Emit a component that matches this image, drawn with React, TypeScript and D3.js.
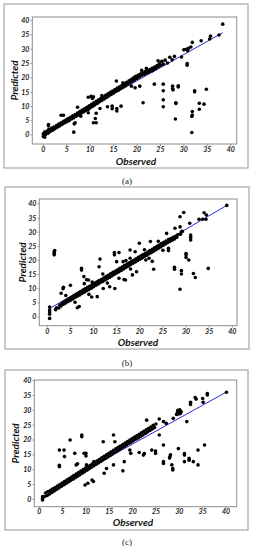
import React from 'react';
import * as d3 from 'd3';

type Pt = [number, number];

// axis ticks shared by the three panels
const xTicks = [0, 5, 10, 15, 20, 25, 30, 35, 40];
const yTicks = [0, 5, 10, 15, 20, 25, 30, 35, 40];

// ---- panel (a) ----
const bandA: Pt[] = [
  [0, -0.5], [0, 0.4], [0.3, 1.0], [0.5, 0.2], [0.8, 1.4], [1, 0.6], [1.2, 2.0], [1.5, 1.2], [1.8, 2.4], [2, 1.7],
  [2.3, 2.8], [2.5, 2.2], [2.8, 3.3], [3, 2.7], [3.3, 3.8], [3.5, 3.2], [3.8, 4.3], [4, 3.7], [4.3, 4.8], [4.5, 4.2],
  [4.8, 5.2], [5, 4.6], [5.3, 5.8], [5.5, 5.0], [5.8, 6.2], [6, 5.6], [6.3, 6.7], [6.5, 6.0], [6.8, 7.2], [7, 6.6],
  [7.3, 7.7], [7.5, 7.0], [7.8, 8.2], [8, 7.5], [8.3, 8.7], [8.5, 8.0], [8.8, 9.2], [9, 8.5], [9.3, 9.7], [9.5, 9.0],
  [9.8, 10.2], [10, 9.5], [10.3, 10.7], [10.5, 10.0], [10.8, 11.3], [11, 10.5], [11.3, 11.8], [11.5, 11.0], [11.8, 12.3], [12, 11.6],
  [12.3, 12.8], [12.5, 12.1], [12.8, 13.3], [13, 12.6], [13.3, 13.9], [13.5, 13.1], [13.8, 14.4], [14, 13.7], [14.3, 14.9], [14.5, 14.2],
  [14.8, 15.4], [15, 14.7], [15.3, 15.9], [15.5, 15.2], [15.8, 16.4], [16, 15.7], [16.3, 16.9], [16.5, 16.2], [16.8, 17.4], [17, 16.7],
  [17.3, 17.9], [17.5, 17.2], [17.8, 18.4], [18, 17.8], [18.3, 19.0], [18.5, 18.3], [18.8, 19.5], [19, 18.8], [19.3, 20.0], [19.5, 19.3],
  [19.8, 20.5], [20, 19.8], [20.3, 21.0], [20.5, 20.3], [20.8, 21.4], [21, 20.8], [21.3, 21.8], [21.5, 21.2], [21.8, 22.2], [22, 21.6],
  [22.3, 22.6], [22.5, 22.0], [22.8, 23.0], [23, 22.4], [23.3, 23.4], [23.5, 22.8], [23.8, 23.8], [24, 23.2], [24.3, 24.3], [24.5, 23.8],
  [24.8, 25.0], [25, 24.3], [25.3, 25.8], [25.6, 24.8], [26, 26.2], [26.5, 25.2], [27, 27.2], [27.5, 26.3], [28, 27.5], [29.5, 27.3],
  [30, 29.8], [30.5, 30.0], [31, 30.3], [30.8, 29.5], [31.5, 30.8], [31.8, 32.4], [33.7, 33.0], [35.5, 33.6], [35.7, 34.6], [37.5, 35.0],
  [38.3, 38.8],
];
const outlierA: Pt[] = [
  [1.1, 3.7], [1.1, 3.2], [0.3, -0.8], [3.8, 6.9], [4.3, 6.9], [6.5, 1.0], [6.8, 4.3], [6.6, 3.9], [7.3, 9.7], [9.6, 7.8],
  [9.6, 9.0], [9.6, 13.2], [10.2, 13.5], [10.7, 13.4], [10.5, 12.8], [10.7, 4.3], [11.3, 4.3], [11.1, 5.8], [11.3, 7.6], [12.1, 9.3],
  [13.7, 9.9], [14.7, 10.1], [14.7, 9.2], [15.7, 8.4], [15.7, 9.3], [16.6, 10.1], [15.6, 18.9], [18.8, 17.1], [19.6, 16.5], [20.6, 17.1],
  [19.6, 20.4], [21.3, 11.3], [23.3, 22.5], [23.7, 17.8], [25.6, 17.8], [25.6, 15.5], [25.6, 12.3], [25.6, 9.9], [27.6, 17.1], [27.6, 16.2],
  [27.7, 15.8], [28.3, 11.3], [28.3, 11.0], [28.2, 5.6], [28.8, 17.2], [28.8, 16.8], [30.7, 24.4], [30.7, 25.0], [31.8, 8.2], [31.8, 7.0],
  [31.7, 6.5], [31.7, 0.9], [32.3, 15.5], [32.3, 15.1], [33.3, 11.1], [33.3, 9.0], [34.3, 10.8], [34.8, 16.0], [21, 22.6], [22, 23.3],
  [24.5, 26.0], [17, 18.3], [12.5, 13.8], [8, 6.6],
];
const fitA: Pt[] = [[0, 0.6], [38.3, 35.8]];

// ---- panel (b) ----
const bandB: Pt[] = [
  [1.8, 2.6], [2, 3.3], [2.5, 3.2], [2.7, 4.2], [3, 3.9], [3.2, 4.9], [3.5, 4.5], [3.7, 5.5], [4, 5.0], [4.2, 6.0],
  [4.5, 5.5], [4.7, 6.5], [5, 5.9], [5.2, 7.0], [5.5, 6.4], [5.7, 7.5], [6, 6.9], [6.2, 8.0], [6.5, 7.4], [6.7, 8.5],
  [7, 7.8], [7.2, 9.0], [7.5, 8.3], [7.7, 9.5], [8, 8.8], [8.2, 10.0], [8.5, 9.3], [8.7, 10.5], [9, 9.7], [9.2, 10.9],
  [9.5, 10.2], [9.7, 11.4], [10, 10.7], [10.2, 11.9], [10.5, 11.2], [10.7, 12.4], [11, 11.7], [11.2, 12.9], [11.5, 12.2], [11.7, 13.3],
  [12, 12.6], [12.2, 13.8], [12.5, 13.1], [12.7, 14.3], [13, 13.6], [13.2, 14.8], [13.5, 14.1], [13.7, 15.3], [14, 14.6], [14.2, 15.8],
  [14.5, 15.1], [14.7, 16.2], [15, 15.6], [15.2, 16.7], [15.5, 16.0], [15.7, 17.2], [16, 16.5], [16.2, 17.7], [16.5, 17.0], [16.7, 18.2],
  [17, 17.5], [17.2, 18.7], [17.5, 18.0], [17.7, 19.2], [18, 18.5], [18.2, 19.6], [18.5, 19.0], [18.7, 20.1], [19, 19.5], [19.2, 20.6],
  [19.5, 19.9], [19.7, 21.1], [20, 20.4], [20.2, 21.6], [20.5, 20.9], [20.7, 22.1], [21, 21.4], [21.2, 22.5], [21.5, 21.9], [21.7, 23.0],
  [22, 22.4], [22.2, 23.5], [22.5, 22.8], [22.7, 24.0], [23, 23.3], [23.2, 24.5], [23.5, 23.8], [23.7, 25.0], [24, 24.3], [24.2, 25.5],
  [24.5, 24.8], [24.7, 26.0], [25, 25.3], [25.2, 26.4], [25.5, 25.8], [25.7, 26.9], [26, 26.3], [26.2, 27.4], [26.5, 26.7], [26.7, 27.8],
  [27, 27.2], [27.2, 28.2], [27.5, 27.6], [27.7, 28.6], [28, 28.2], [28.2, 29.1], [28.8, 29.3], [29.2, 30.3],
];
const outlierB: Pt[] = [
  [0.5, 3.5], [0.5, 2.5], [0.5, 1.8], [0.5, 1.0], [0.5, -0.5], [1.5, 22.0], [1.5, 22.6], [1.5, 23.2], [1.6, 23.5], [3, 8.4],
  [3.5, 10.5], [3.4, 10.0], [5, 11.2], [6.5, 3.3], [6.9, 3.7], [7.4, 17.2], [7.4, 16.6], [7.9, 14.3], [8.9, 13.1], [8.5, 13.2],
  [9.7, 12.4], [9.6, 7.1], [10.8, 7.2], [11.2, 17.8], [11.4, 20.5], [12.1, 10.1], [13.5, 10.7], [14.5, 22.8], [14.5, 22.0], [14.6, 10.1],
  [15, 19.6], [15.5, 22.8], [15.5, 13.7], [16.4, 19.6], [16.6, 13.3], [16.9, 13.1], [17.9, 23.7], [17.9, 20.8], [18.4, 14.9], [19, 23.1],
  [19.3, 16.0], [19.9, 26.1], [21.3, 20.2], [22.3, 26.7], [22.7, 19.7], [23, 16.9], [25.8, 29.6], [26.2, 24.3], [26.2, 23.5], [27.5, 16.9],
  [27.5, 17.6], [27.6, 31.4], [28.7, 35.5], [28.7, 31.9], [28.7, 9.8], [29, 16.4], [29, 15.2], [29, 30.2], [29.5, 37.0], [30, 22.5],
  [30, 22.0], [30, 21.1], [30.6, 20.2], [30.8, 33.2], [31, 29.0], [31, 28.2], [31, 27.3], [31.6, 15.4], [32, 14.0], [32.8, 34.6],
  [33.9, 36.9], [34.4, 36.1], [34.3, 34.6], [33.6, 34.6], [34.8, 17.2], [38.8, 39.5], [4, 7.6], [6, 5.2], [8, 11.8], [9, 8.0],
  [12, 15.2], [13, 12.0], [17, 20.0], [18, 17.0], [21, 23.8], [22, 20.8], [24, 26.8], [25, 23.6],
];
const fitB: Pt[] = [[0.5, 3.0], [38.8, 39.5]];

// ---- panel (c) ----
const bandC: Pt[] = [
  [0.7, -0.2], [0.7, 0.3], [0.7, 0.9], [1.2, 1.0], [1.4, 2.2], [1.7, 1.3], [1.9, 2.6], [2.2, 1.8], [2.4, 3.0], [2.7, 2.3],
  [2.9, 3.5], [3.2, 2.8], [3.4, 4.0], [3.7, 3.3], [3.9, 4.5], [4.2, 3.8], [4.4, 5.0], [4.7, 4.3], [4.9, 5.5], [5.2, 4.8],
  [5.4, 6.0], [5.7, 5.3], [5.9, 6.5], [6.2, 5.8], [6.4, 7.0], [6.7, 6.3], [6.9, 7.5], [7.2, 6.8], [7.4, 8.0], [7.7, 7.3],
  [7.9, 8.5], [8.2, 7.8], [8.4, 9.0], [8.7, 8.3], [8.9, 9.5], [9.2, 8.8], [9.4, 10.0], [9.7, 9.3], [9.9, 10.5], [10.2, 9.8],
  [10.4, 11.0], [10.7, 10.3], [10.9, 11.5], [11.2, 10.8], [11.4, 12.0], [11.7, 11.3], [11.9, 12.5], [12.2, 11.8], [12.4, 13.0], [12.7, 12.3],
  [12.9, 13.5], [13.2, 12.8], [13.4, 14.0], [13.7, 13.3], [13.9, 14.5], [14.2, 13.8], [14.4, 15.0], [14.7, 14.3], [14.9, 15.5], [15.2, 14.8],
  [15.4, 16.0], [15.7, 15.3], [15.9, 16.5], [16.2, 15.8], [16.4, 17.0], [16.7, 16.3], [16.9, 17.5], [17.2, 16.8], [17.4, 18.0], [17.7, 17.3],
  [17.9, 18.5], [18.2, 17.8], [18.4, 19.0], [18.7, 18.3], [18.9, 19.5], [19.2, 18.8], [19.4, 20.0], [19.7, 19.3], [19.9, 20.5], [20.2, 19.8],
  [20.4, 21.0], [20.7, 20.3], [20.9, 21.4], [21.2, 20.7], [21.4, 21.9], [21.7, 21.2], [21.9, 22.4], [22.2, 21.7], [22.4, 22.9], [22.7, 22.2],
  [22.9, 23.4], [23.2, 22.7], [23.4, 23.9], [23.7, 23.2], [23.9, 24.4], [24.2, 23.7], [24.4, 25.0], [24.7, 24.2], [25, 25.4], [25.7, 27.1],
  [26.6, 26.2], [27.2, 25.6], [28.7, 27.3], [29.4, 28.6], [29.6, 29.4], [29.8, 28.8], [30, 29.6], [30.2, 28.9], [30.4, 29.5], [29.7, 30.0],
  [30.1, 30.2], [31.6, 26.2], [32.4, 32.0], [32.4, 32.7], [33.4, 34.3], [33.6, 33.8], [35, 34.0], [35.1, 32.7], [36, 35.2], [36, 35.7],
  [40.1, 36.1],
];
const outlierC: Pt[] = [
  [4.3, 16.6], [4.3, 11.0], [4.3, 11.5], [5.3, 16.6], [5.4, 14.4], [6.6, 20.0], [7.6, 15.5], [7.9, 11.6], [8.2, 12.0], [9.1, 21.7],
  [9.1, 21.1], [10, 15.5], [10, 14.6], [9.6, 15.5], [10.1, 11.6], [11.7, 12.7], [11.3, 6.5], [11.6, 6.0], [9.8, 4.8], [10.4, 5.4],
  [13.7, 19.4], [15.9, 21.7], [16.2, 19.4], [13.9, 8.8], [14.4, 10.4], [15.9, 11.6], [17.9, 9.6], [18.2, 12.7], [19.4, 16.6], [19.6, 15.5],
  [21.4, 15.8], [22.3, 14.9], [22.5, 15.4], [24.1, 16.6], [25.7, 21.7], [26.6, 18.3], [24.9, 15.5], [24.9, 16.3], [26.6, 12.7], [26.6, 12.1],
  [28, 14.4], [27.9, 13.9], [28.1, 15.0], [28.4, 11.6], [28.6, 9.9], [28.6, 10.4], [29.8, 17.1], [31.1, 14.9], [31.1, 12.7], [31.1, 15.4],
  [32.1, 13.8], [32.1, 13.2], [33, 12.7], [34, 11.6], [34, 16.6], [35.4, 18.3], [23, 26.7],
];
const fitC: Pt[] = [[0.9, 2.0], [40, 36.1]];

// layout of the three stacked figure panels
const panels = [
  { caption: '(a)', band: bandA, outliers: outlierA, fit: fitA,
    frame: [4, 4, 248, 168], box: [32.3, 17, 236.7, 144], xr: [43.3, 230.7], yr: [135, 20.7],
    predX: 14, obsX: 136, obsY: 165, tickY: 152, capY: 184 },
  { caption: '(b)', band: bandB, outliers: outlierB, fit: fitB,
    frame: [5, 187, 249, 349], box: [39.3, 199, 237, 325.7], xr: [47.3, 232.3], yr: [317, 204],
    predX: 22, obsX: 138, obsY: 346, tickY: 334, capY: 366 },
  { caption: '(c)', band: bandC, outliers: outlierC, fit: fitC,
    frame: [5, 370, 248, 530], box: [34.3, 380, 236.7, 506.7], xr: [39.3, 226], yr: [499.3, 380.7],
    predX: 15, obsX: 133, obsY: 526, tickY: 514, capY: 545 },
];

const labelFont = 'Lato, "Open Sans", sans-serif';

function Panel({ p }: { p: typeof panels[number] }) {
  const x = d3.scaleLinear().domain([0, 40]).range(p.xr);
  const y = d3.scaleLinear().domain([0, 40]).range(p.yr);
  const line = d3.line<Pt>().x(d => x(d[0])).y(d => y(d[1]));
  const [fx0, fy0, fx1, fy1] = p.frame;
  const [bx0, by0, bx1, by1] = p.box;
  const pts = [...p.band, ...p.outliers];

  return (
    <g>
      <rect x={fx0} y={fy0} width={fx1 - fx0} height={fy1 - fy0} fill="#fff" stroke="#b4b4b4" strokeWidth={1.4} />
      <rect x={bx0} y={by0} width={bx1 - bx0} height={by1 - by0} fill="#fff" stroke="#8c8c8c" strokeWidth={1} />

      {yTicks.map(t => (
        <g key={'y' + t}>
          <line x1={bx0 - 2} x2={bx0} y1={y(t)} y2={y(t)} stroke="#8c8c8c" strokeWidth={0.8} />
          <text x={bx0 - 3} y={y(t)} dy="0.35em" textAnchor="end" fontSize={7} fontWeight="bold"
            fontStyle="italic" fontFamily={labelFont} fill="#222">{t}</text>
        </g>
      ))}
      {xTicks.map(t => (
        <g key={'x' + t}>
          <line x1={x(t)} x2={x(t)} y1={by1} y2={by1 + 2} stroke="#8c8c8c" strokeWidth={0.8} />
          <text x={x(t)} y={p.tickY} textAnchor="middle" fontSize={7} fontWeight="bold"
            fontStyle="italic" fontFamily={labelFont} fill="#222">{t}</text>
        </g>
      ))}

      <path d={line(p.fit) || ''} stroke="#2b2bdc" strokeWidth={1} fill="none" />
      {pts.map((d, i) => (
        <circle key={i} cx={x(d[0])} cy={y(d[1])} r={1.8} fill="#000" />
      ))}

      <text transform={`translate(${p.predX},${(by0 + by1) / 2}) rotate(-90)`} dy="0.35em" textAnchor="middle"
        fontSize={10} fontWeight="bold" fontStyle="italic" fontFamily={labelFont} fill="#111">Predicted</text>
      <text x={p.obsX} y={p.obsY} textAnchor="middle" fontSize={10} fontWeight="bold" fontStyle="italic"
        fontFamily={labelFont} fill="#111">Observed</text>
      <text x={127} y={p.capY} textAnchor="middle" fontSize={9} fontFamily='"Liberation Serif", serif'
        fill="#222">{p.caption}</text>
    </g>
  );
}

export default function App() {
  return (
    <svg width={254} height={550} style={{ position: 'absolute', left: 0, top: 0, background: '#fff' }}>
      {panels.map(p => <Panel key={p.caption} p={p} />)}
    </svg>
  );
}
